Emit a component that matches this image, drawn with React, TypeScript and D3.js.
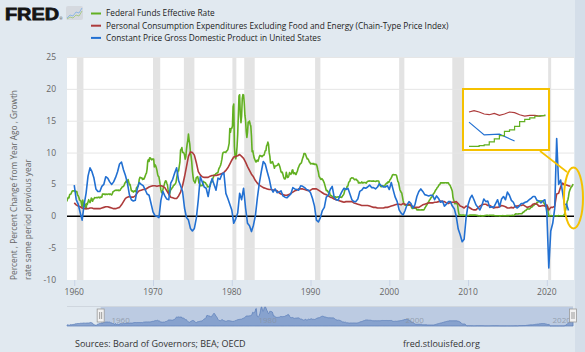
import { useEffect, useRef } from 'react'
import * as d3 from 'd3'

// Federal Funds Effective Rate, monthly, starting 1954-07
const fedFundsStart = 1954.5
const fedFunds = [
  0.80, 1.22, 1.07, 0.85, 0.83, 1.28,
  1.39, 1.29, 1.35, 1.43, 1.43, 1.64, 1.68, 1.96, 2.18, 2.24, 2.35, 2.48,
  2.45, 2.50, 2.50, 2.62, 2.75, 2.71, 2.75, 2.73, 2.95, 2.96, 2.88, 2.94,
  2.84, 3.00, 2.96, 3.00, 3.00, 3.00, 2.99, 3.24, 3.47, 3.50, 3.28, 2.98,
  2.72, 1.67, 1.20, 1.26, 0.63, 0.93, 0.68, 1.53, 1.76, 1.80, 2.27, 2.42,
  2.48, 2.43, 2.80, 2.96, 2.90, 3.39, 3.47, 3.50, 3.76, 3.98, 4.00, 3.99,
  3.99, 3.97, 3.84, 3.92, 3.85, 3.32, 3.23, 2.98, 2.60, 2.47, 2.44, 1.98,
  1.45, 2.54, 2.02, 1.49, 1.98, 1.73, 1.17, 2.00, 1.88, 2.26, 2.61, 2.33,
  2.15, 2.37, 2.85, 2.78, 2.36, 2.68, 2.71, 2.93, 2.90, 2.90, 2.94, 2.93,
  2.92, 3.00, 2.98, 2.90, 3.00, 2.99, 3.02, 3.49, 3.48, 3.50, 3.48, 3.38,
  3.48, 3.48, 3.43, 3.47, 3.50, 3.50, 3.42, 3.50, 3.45, 3.36, 3.52, 3.85,
  3.90, 3.98, 4.04, 4.09, 4.10, 4.04, 4.09, 4.12, 4.01, 4.08, 4.10, 4.32,
  4.42, 4.60, 4.65, 4.67, 4.90, 5.17, 5.30, 5.53, 5.40, 5.53, 5.76, 5.40,
  4.94, 5.00, 4.53, 4.05, 3.94, 3.98, 3.79, 3.90, 3.99, 3.88, 4.13, 4.51,
  4.61, 4.71, 5.05, 5.76, 6.11, 6.07, 6.02, 6.03, 5.78, 5.91, 5.82, 6.02,
  6.30, 6.61, 6.79, 7.41, 8.67, 8.90, 8.61, 9.19, 9.15, 9.00, 8.85, 8.97,
  8.98, 8.98, 7.76, 8.10, 7.95, 7.61, 7.21, 6.61, 6.29, 6.20, 5.60, 4.90,
  4.14, 3.72, 3.71, 4.15, 4.63, 4.91, 5.31, 5.56, 5.55, 5.20, 4.91, 4.14,
  3.50, 3.29, 3.83, 4.17, 4.27, 4.46, 4.55, 4.80, 4.87, 5.04, 5.06, 5.33,
  5.94, 6.58, 7.09, 7.12, 7.84, 8.49, 10.40, 10.50, 10.78, 10.01, 10.03, 9.95,
  9.65, 8.97, 9.35, 10.51, 11.31, 11.93, 12.92, 12.01, 11.34, 10.06, 9.45, 8.53,
  7.13, 6.24, 5.54, 5.49, 5.22, 5.55, 6.10, 6.14, 6.24, 5.82, 5.22, 5.20,
  4.87, 4.77, 4.84, 4.82, 5.29, 5.48, 5.31, 5.29, 5.25, 5.03, 4.95, 4.65,
  4.61, 4.68, 4.69, 4.73, 5.35, 5.39, 5.42, 5.90, 6.14, 6.47, 6.51, 6.56,
  6.70, 6.78, 6.79, 6.89, 7.36, 7.60, 7.81, 8.04, 8.45, 8.96, 9.76, 10.03,
  10.07, 10.06, 10.09, 10.01, 10.24, 10.29, 10.47, 10.94, 11.43, 13.77, 13.18, 13.78,
  13.82, 14.13, 17.19, 17.61, 10.98, 9.47, 9.03, 9.61, 10.87, 12.81, 15.85, 18.90,
  19.08, 15.93, 14.70, 15.72, 18.52, 19.10, 19.04, 17.82, 15.87, 15.08, 13.31, 12.37,
  13.22, 14.78, 14.68, 14.94, 14.45, 14.15, 12.59, 10.12, 10.31, 9.71, 9.20, 8.95,
  8.68, 8.51, 8.77, 8.80, 8.63, 8.98, 9.37, 9.56, 9.45, 9.48, 9.34, 9.47,
  9.56, 9.59, 9.91, 10.29, 10.32, 11.06, 11.23, 11.64, 11.30, 9.99, 9.43, 8.38,
  8.35, 8.50, 8.58, 8.27, 7.97, 7.53, 7.88, 7.90, 7.92, 7.99, 8.05, 8.27,
  8.14, 7.86, 7.48, 6.99, 6.85, 6.92, 6.56, 6.17, 5.89, 5.85, 6.04, 6.91,
  6.43, 6.10, 6.13, 6.37, 6.85, 6.73, 6.58, 6.73, 7.22, 7.29, 6.69, 6.77,
  6.83, 6.58, 6.58, 6.87, 7.09, 7.51, 7.75, 8.01, 8.19, 8.30, 8.35, 8.76,
  9.12, 9.36, 9.85, 9.84, 9.81, 9.53, 9.24, 8.99, 9.02, 8.84, 8.55, 8.45,
  8.23, 8.24, 8.28, 8.26, 8.18, 8.29, 8.15, 8.13, 8.20, 8.11, 7.81, 7.31,
  6.91, 6.25, 6.12, 5.91, 5.78, 5.90, 5.82, 5.66, 5.45, 5.21, 4.81, 4.43,
  4.03, 4.06, 3.98, 3.73, 3.82, 3.76, 3.25, 3.30, 3.22, 3.10, 3.09, 2.92,
  3.02, 3.03, 3.07, 2.96, 3.00, 3.04, 3.06, 3.03, 3.09, 2.99, 3.02, 2.96,
  3.05, 3.25, 3.34, 3.56, 4.01, 4.25, 4.26, 4.47, 4.73, 4.76, 5.29, 5.45,
  5.53, 5.92, 5.98, 6.05, 6.01, 6.00, 5.85, 5.74, 5.80, 5.76, 5.80, 5.60,
  5.56, 5.22, 5.31, 5.22, 5.24, 5.27, 5.40, 5.22, 5.30, 5.24, 5.31, 5.29,
  5.25, 5.19, 5.39, 5.51, 5.50, 5.56, 5.52, 5.54, 5.54, 5.50, 5.52, 5.50,
  5.56, 5.51, 5.49, 5.45, 5.49, 5.56, 5.54, 5.55, 5.51, 5.07, 4.83, 4.68,
  4.63, 4.76, 4.81, 4.74, 4.74, 4.76, 4.99, 5.07, 5.22, 5.20, 5.42, 5.30,
  5.45, 5.73, 5.85, 6.02, 6.27, 6.53, 6.54, 6.50, 6.52, 6.51, 6.51, 6.40,
  5.98, 5.49, 5.31, 4.80, 4.21, 3.97, 3.77, 3.65, 3.07, 2.49, 2.09, 1.82,
  1.73, 1.74, 1.73, 1.75, 1.75, 1.75, 1.73, 1.74, 1.75, 1.75, 1.34, 1.24,
  1.24, 1.26, 1.25, 1.26, 1.26, 1.22, 1.01, 1.03, 1.01, 1.01, 1.00, 0.98,
  1.00, 1.01, 1.00, 1.00, 1.00, 1.03, 1.26, 1.43, 1.61, 1.76, 1.93, 2.16,
  2.28, 2.50, 2.63, 2.79, 3.00, 3.04, 3.26, 3.50, 3.62, 3.78, 4.00, 4.16,
  4.29, 4.49, 4.59, 4.79, 4.94, 4.99, 5.24, 5.25, 5.25, 5.25, 5.25, 5.24,
  5.25, 5.26, 5.26, 5.25, 5.25, 5.25, 5.26, 5.02, 4.94, 4.76, 4.49, 4.24,
  3.94, 2.98, 2.61, 2.28, 1.98, 2.00, 2.01, 2.00, 1.81, 0.97, 0.39, 0.16,
  0.15, 0.22, 0.18, 0.15, 0.18, 0.21, 0.16, 0.16, 0.15, 0.12, 0.12, 0.12,
  0.11, 0.13, 0.16, 0.20, 0.20, 0.18, 0.18, 0.19, 0.19, 0.19, 0.19, 0.18,
  0.17, 0.16, 0.14, 0.10, 0.09, 0.09, 0.07, 0.10, 0.08, 0.07, 0.08, 0.07,
  0.08, 0.10, 0.13, 0.14, 0.16, 0.16, 0.16, 0.13, 0.14, 0.16, 0.16, 0.16,
  0.14, 0.15, 0.14, 0.15, 0.11, 0.09, 0.09, 0.08, 0.08, 0.09, 0.08, 0.09,
  0.07, 0.07, 0.08, 0.09, 0.09, 0.10, 0.09, 0.09, 0.09, 0.09, 0.09, 0.12,
  0.11, 0.11, 0.11, 0.12, 0.12, 0.13, 0.13, 0.14, 0.14, 0.12, 0.12, 0.24,
  0.34, 0.38, 0.36, 0.37, 0.37, 0.38, 0.39, 0.40, 0.40, 0.40, 0.41, 0.54,
  0.65, 0.66, 0.79, 0.90, 0.91, 1.04, 1.15, 1.16, 1.15, 1.15, 1.16, 1.30,
  1.41, 1.42, 1.51, 1.69, 1.70, 1.82, 1.91, 1.91, 1.95, 2.19, 2.20, 2.27,
  2.40, 2.40, 2.41, 2.42, 2.39, 2.38, 2.40, 2.13, 2.04, 1.83, 1.55, 1.55,
  1.55, 1.58, 0.65, 0.05, 0.05, 0.08, 0.09, 0.10, 0.09, 0.09, 0.09, 0.09,
  0.09, 0.08, 0.07, 0.07, 0.06, 0.08, 0.10, 0.09, 0.08, 0.08, 0.08, 0.08,
  0.08, 0.08, 0.20, 0.33, 0.77, 1.21, 1.68, 2.33, 2.56, 3.08, 3.78, 4.10,
  4.33, 4.57, 4.65, 4.83, 5.06,
]

// PCE excluding food and energy, % change from year ago, quarterly from 1960 Q1
const pceStart = 1960
const pceCore = [
  2.1, 1.8, 1.6, 1.5, 1.3, 1.2, 1.2, 1.2, 1.3, 1.3, 1.2, 1.2, 1.2, 1.2, 1.3, 1.4,
  1.5, 1.5, 1.4, 1.3, 1.2, 1.2, 1.3, 1.4, 1.8, 2.3, 2.8, 3.0, 3.1, 3.0, 3.0, 3.2,
  3.7, 4.0, 4.1, 4.2, 4.2, 4.4, 4.6, 4.7, 4.8, 4.8, 4.7, 4.8, 4.8, 4.7, 4.5, 4.0,
  3.5, 3.0, 2.9, 2.8, 2.8, 3.2, 3.8, 4.8, 6.2, 7.8, 9.4, 10.1, 10.0, 9.6, 8.4, 7.0,
  6.5, 6.2, 6.1, 6.1, 6.1, 6.3, 6.4, 6.4, 6.4, 6.5, 6.6, 6.7, 6.9, 7.2, 7.6, 8.2,
  8.8, 9.3, 9.4, 9.5, 9.7, 9.4, 9.1, 8.5, 7.8, 7.2, 6.6, 6.2, 5.6, 5.2, 4.9, 4.7,
  4.5, 4.4, 4.3, 4.2, 4.2, 4.1, 4.1, 4.0, 3.7, 3.5, 3.4, 3.3, 3.3, 3.4, 3.6, 3.8,
  4.0, 4.1, 4.3, 4.3, 4.3, 4.2, 4.1, 4.0, 4.1, 4.3, 4.3, 4.3, 4.1, 3.9, 3.7, 3.5,
  3.4, 3.2, 3.0, 2.9, 2.7, 2.6, 2.5, 2.4, 2.3, 2.2, 2.3, 2.3, 2.3, 2.3, 2.1, 2.0,
  1.9, 1.8, 1.7, 1.7, 1.7, 1.7, 1.6, 1.5, 1.4, 1.4, 1.3, 1.3, 1.3, 1.3, 1.4, 1.4,
  1.5, 1.6, 1.7, 1.8, 1.9, 1.9, 1.8, 2.0, 1.9, 1.8, 1.9, 1.7, 1.5, 1.4, 1.4, 1.4,
  1.6, 1.8, 1.9, 2.0, 2.1, 2.1, 2.1, 2.2, 2.2, 2.3, 2.4, 2.3, 2.3, 2.1, 2.0, 2.2,
  2.2, 2.2, 2.3, 2.0, 1.6, 1.5, 1.3, 1.6, 1.5, 1.3, 1.1, 1.0, 1.0, 1.3, 1.6, 1.8,
  1.9, 1.9, 1.7, 1.7, 1.5, 1.3, 1.4, 1.4, 1.5, 1.7, 1.6, 1.5, 1.3, 1.3, 1.4, 1.3,
  1.6, 1.6, 1.7, 1.7, 1.8, 1.6, 1.4, 1.5, 1.6, 1.9, 2.0, 1.9, 1.6, 1.6, 1.7, 1.6,
  1.8, 1.0, 1.4, 1.4, 1.6, 3.5, 3.6, 4.6, 5.2, 4.9, 4.9, 4.8, 4.7,
]

// Real GDP, growth rate same period previous year, quarterly from 1960 Q1
const gdpStart = 1960
const gdpGrowth = [
  4.9, 2.6, 1.9, 0.6, -0.6, 1.8, 3.6, 6.3, 7.6, 7.0, 6.0, 4.3, 3.9, 3.9, 4.7, 5.0,
  6.2, 6.0, 5.4, 5.0, 5.4, 6.1, 7.0, 8.2, 8.5, 7.3, 6.4, 5.2, 3.4, 2.6, 2.4, 2.5,
  4.3, 5.3, 5.0, 4.8, 4.2, 3.5, 3.3, 2.0, 0.7, 0.1, 0.0, -0.2, 2.5, 3.9, 3.2, 2.7,
  2.6, 5.2, 5.8, 6.8, 7.6, 5.6, 4.8, 3.9, 1.3, -0.2, -0.6, -1.9, -2.3, -1.9, -0.3, 2.6,
  6.2, 5.4, 4.6, 4.4, 3.1, 4.9, 5.9, 5.0, 4.1, 6.0, 5.8, 6.6, 6.8, 3.6, 2.8, 1.9,
  1.0, -1.1, -0.4, 0.5, 3.6, 2.6, 4.4, 1.3, -1.1, -1.5, -2.4, -1.4, 0.1, 2.9, 5.2, 7.0,
  8.6, 8.2, 7.0, 5.9, 4.4, 3.8, 4.3, 3.7, 3.8, 4.0, 3.2, 3.0, 2.9, 3.2, 3.5, 4.5,
  4.3, 4.2, 4.1, 4.8, 4.7, 4.5, 4.2, 4.1, 3.7, 2.8, 1.6, -0.6, -0.9, -0.2, 0.9, 1.4,
  3.0, 3.3, 4.2, 4.7, 3.0, 2.6, 2.5, 3.3, 3.9, 4.4, 4.2, 4.4, 3.5, 2.6, 2.3, 2.3,
  2.7, 3.9, 4.1, 4.5, 4.4, 4.6, 4.9, 4.5, 4.5, 4.3, 4.6, 5.1, 4.8, 4.6, 4.6, 4.8,
  4.2, 5.3, 4.1, 3.0, 2.3, 1.0, 0.5, 0.2, 0.9, 1.8, 2.3, 2.0, 1.3, 1.8, 3.1, 3.9,
  4.3, 3.9, 3.4, 3.3, 3.2, 3.3, 3.3, 2.6, 3.2, 2.8, 2.2, 2.4, 1.6, 1.9, 2.3, 2.3,
  1.6, 1.2, 0.0, -2.0, -2.9, -4.0, -3.6, -0.2, 1.8, 2.8, 3.3, 2.6, 1.8, 1.4, 1.0, 1.7,
  2.7, 2.3, 2.4, 1.4, 1.5, 1.4, 2.0, 2.6, 1.5, 2.7, 3.1, 2.6, 3.8, 3.3, 2.5, 2.2,
  1.5, 1.3, 1.6, 2.0, 2.0, 2.2, 2.3, 2.6, 2.8, 3.1, 3.1, 2.5, 2.4, 2.1, 2.4, 2.6,
  0.6, -8.1, -2.3, -1.1, 1.2, 12.2, 5.0, 5.7, 3.7, 1.8, 1.9, 0.9,
]

// Inset (close-up of 2022-2023)
const insetStart = 2022
const insetRate = [0.08, 0.08, 0.20, 0.33, 0.77, 1.21, 1.68, 2.33, 2.56, 3.08, 3.78, 4.10, 4.33, 4.57, 4.65, 4.83]
const insetPce = [5.2, 5.4, 5.2, 4.9, 4.8, 5.0, 4.7, 4.9, 5.2, 5.1, 4.8, 4.6, 4.7, 4.7, 4.6, 4.7]
const insetGdp = [3.7, 1.8, 1.9, 0.9]

// NBER recessions (start month, end month as decimal years)
const recessions: [number, number][] = [
  [1960.33, 1961.08], [1970.0, 1970.83], [1973.92, 1975.17], [1980.08, 1980.5],
  [1981.58, 1982.83], [1990.58, 1991.17], [2001.25, 2001.83], [2008.0, 2009.42], [2020.17, 2020.25],
]

const yTicks = [-10, -5, 0, 5, 10, 15, 20, 25]
const xTicks = [1960, 1970, 1980, 1990, 2000, 2010, 2020]
const navTicks = [1960, 1980, 2000, 2020]

const seriesNames = [
  'Federal Funds Effective Rate',
  'Personal Consumption Expenditures Excluding Food and Energy (Chain-Type Price Index)',
  'Constant Price Gross Domestic Product in United States',
]
const GREEN = '#62b022'
const RED = '#ad3b3b'
const BLUE = '#2270d2'
const seriesColors = [GREEN, RED, BLUE]
const FONT = '"Open Sans", sans-serif'

export default function App() {
  const svgRef = useRef<SVGSVGElement>(null)

  useEffect(() => {
    if (!svgRef.current) return
    const svg = d3.select(svgRef.current)
    svg.selectAll('*').remove()

    const W = 585
    const H = 352
    const plot = { left: 67, right: 574, top: 57, bottom: 280 }

    const x = d3.scaleLinear().domain([1959.08, 2023.45]).range([plot.left, plot.right])
    const y = d3.scaleLinear().domain([-10, 25]).range([plot.bottom, plot.top])

    const fedPts: [number, number][] = fedFunds.map((v, i) => [fedFundsStart + i / 12, v])
    const pcePts: [number, number][] = pceCore.map((v, i) => [pceStart + i / 4, v])
    const gdpPts: [number, number][] = gdpGrowth.map((v, i) => [gdpStart + i / 4, v])

    // background
    svg.append('rect').attr('width', W).attr('height', H).attr('fill', '#e1e9f0')
    svg.append('rect').attr('x', 575).attr('width', W - 575).attr('height', H).attr('fill', '#d4dee9')

    svg.append('defs').append('clipPath').attr('id', 'plotclip')
      .append('rect')
      .attr('x', plot.left).attr('y', plot.top)
      .attr('width', plot.right - plot.left).attr('height', plot.bottom - plot.top)

    svg.append('rect')
      .attr('x', plot.left).attr('y', plot.top)
      .attr('width', plot.right - plot.left).attr('height', plot.bottom - plot.top)
      .attr('fill', '#ffffff')

    // recession shading
    svg.append('g').selectAll('rect')
      .data(recessions)
      .enter()
      .append('rect')
      .attr('x', d => x(d[0]))
      .attr('y', plot.top)
      .attr('width', d => Math.max(3, x(d[1] + 1 / 12) - x(d[0])))
      .attr('height', plot.bottom - plot.top)
      .attr('fill', '#e3e3e3')

    // grid
    svg.append('g').selectAll('line')
      .data(yTicks.filter(t => t !== -10 && t !== 0))
      .enter()
      .append('line')
      .attr('x1', plot.left).attr('x2', plot.right)
      .attr('y1', d => y(d) + 0.5).attr('y2', d => y(d) + 0.5)
      .attr('stroke', '#e6e6e6')
      .attr('stroke-width', 1)

    // zero line
    svg.append('line')
      .attr('x1', plot.left).attr('x2', plot.right)
      .attr('y1', y(0)).attr('y2', y(0))
      .attr('stroke', '#000').attr('stroke-width', 1.6)

    // series
    const line = d3.line<[number, number]>().x(d => x(d[0])).y(d => y(d[1]))
    const series = svg.append('g').attr('clip-path', 'url(#plotclip)')
    ;[[fedPts, GREEN], [pcePts, RED], [gdpPts, BLUE]].forEach(([pts, col]) => {
      series.append('path')
        .attr('d', line(pts as [number, number][]))
        .attr('fill', 'none')
        .attr('stroke', col as string)
        .attr('stroke-width', 1.6)
        .attr('stroke-linejoin', 'round')
    })

    // y axis labels
    svg.append('g').selectAll('text')
      .data(yTicks)
      .enter()
      .append('text')
      .attr('x', 56)
      .attr('y', d => y(d))
      .attr('dy', '0.35em')
      .attr('text-anchor', 'end')
      .attr('font-family', FONT)
      .attr('font-size', 8.5)
      .attr('fill', '#666')
      .text(d => d)

    // x axis ticks + labels
    const xa = svg.append('g')
    xa.selectAll('line')
      .data(xTicks)
      .enter()
      .append('line')
      .attr('x1', d => x(d) + 0.5).attr('x2', d => x(d) + 0.5)
      .attr('y1', plot.bottom).attr('y2', plot.bottom + 6)
      .attr('stroke', '#c8d3e6')
    xa.selectAll('text')
      .data(xTicks)
      .enter()
      .append('text')
      .attr('x', d => x(d))
      .attr('y', 295)
      .attr('text-anchor', 'middle')
      .attr('font-family', FONT)
      .attr('font-size', 8.5)
      .attr('fill', '#666')
      .text(d => d)

    // y axis title
    const yt = svg.append('text')
      .attr('transform', `translate(0,${plot.bottom}) rotate(-90)`)
      .attr('font-family', FONT)
      .attr('font-size', 8.3)
      .attr('fill', '#666')
    yt.append('tspan').attr('x', 0).attr('y', 17).text('Percent , Percent Change from Year Ago , Growth')
    yt.append('tspan').attr('x', 0).attr('y', 31).text('rate same period previous year')

    // logo
    svg.append('text')
      .attr('x', 5).attr('y', 19.5)
      .attr('font-family', '"Liberation Sans", Arial, sans-serif')
      .attr('font-weight', 'bold')
      .attr('font-size', 16.5)
      .attr('textLength', 54)
      .attr('lengthAdjust', 'spacingAndGlyphs')
      .attr('fill', '#141414')
      .attr('stroke', '#141414')
      .attr('stroke-width', 0.8)
      .text('FRED')
    svg.append('text')
      .attr('x', 59.5).attr('y', 19.5)
      .attr('font-family', FONT).attr('font-size', 3.5).attr('fill', '#141414')
      .text('®')
    const icon = svg.append('g').attr('transform', 'translate(66,6)')
    icon.append('rect').attr('width', 17).attr('height', 14).attr('rx', 2).attr('fill', '#d5d9df')
    icon.append('path').attr('d', 'M1,12 L4,9 L7,10 L10,6 L13,7 L16,2').attr('fill', 'none').attr('stroke', '#8fb8e6').attr('stroke-width', 1)
    icon.append('path').attr('d', 'M1,13 L4,11 L7,12 L10,9 L13,10 L16,5').attr('fill', 'none').attr('stroke', '#a9c98c').attr('stroke-width', 1)

    // legend
    const lg = svg.append('g')
    seriesNames.forEach((name, i) => {
      const ly = 13.5 + i * 12.2
      lg.append('line')
        .attr('x1', 91).attr('x2', 101)
        .attr('y1', ly).attr('y2', ly)
        .attr('stroke', seriesColors[i]).attr('stroke-width', 2)
      lg.append('text')
        .attr('x', 106).attr('y', ly)
        .attr('dy', '0.35em')
        .attr('font-family', FONT)
        .attr('font-size', 8.3)
        .attr('fill', '#222')
        .text(name)
    })

    // navigator
    const nav = { left: 67, right: 573, top: 306, bottom: 326 }
    const nx = d3.scaleLinear().domain([fedFundsStart, 2023.33]).range([nav.left, nav.right])
    const ny = d3.scaleLinear().domain([0, d3.max(fedFunds) as number]).range([nav.bottom, nav.top + 1])
    const selL = nx(1959.08)
    svg.append('rect')
      .attr('x', selL).attr('y', nav.top)
      .attr('width', nav.right - selL).attr('height', nav.bottom - nav.top)
      .attr('fill', '#bccbe2')
    svg.append('line')
      .attr('x1', nav.left).attr('x2', nav.right)
      .attr('y1', nav.top + 0.5).attr('y2', nav.top + 0.5)
      .attr('stroke', '#cfd6de')
    const area = d3.area<[number, number]>().x(d => nx(d[0])).y0(nav.bottom).y1(d => ny(d[1]))
    svg.append('path')
      .attr('d', area(fedPts))
      .attr('fill', '#7e9bca')
      .attr('fill-opacity', 0.85)
      .attr('stroke', '#5f82bb')
      .attr('stroke-width', 0.8)
    svg.append('g').selectAll('text')
      .data(navTicks)
      .enter()
      .append('text')
      .attr('x', d => nx(d) + 4)
      .attr('y', nav.bottom - 3)
      .attr('font-family', FONT)
      .attr('font-size', 8)
      .attr('fill', '#8a93a0')
      .attr('fill-opacity', 0.8)
      .text(d => d)
    ;[selL, nav.right].forEach(hx => {
      const h = svg.append('g').attr('transform', `translate(${hx - 3.5},${nav.top + 3})`)
      h.append('rect').attr('width', 7).attr('height', 13).attr('fill', '#f2f2f2').attr('stroke', '#999').attr('stroke-width', 0.8)
      h.append('line').attr('x1', 2.5).attr('x2', 2.5).attr('y1', 3).attr('y2', 10).attr('stroke', '#777').attr('stroke-width', 0.7)
      h.append('line').attr('x1', 4.5).attr('x2', 4.5).attr('y1', 3).attr('y2', 10).attr('stroke', '#777').attr('stroke-width', 0.7)
    })

    // footer
    svg.append('text')
      .attr('x', 75).attr('y', 347)
      .attr('font-family', FONT).attr('font-size', 9).attr('fill', '#333')
      .text('Sources: Board of Governors; BEA; OECD')
    svg.append('text')
      .attr('x', 403).attr('y', 347)
      .attr('font-family', FONT).attr('font-size', 9).attr('fill', '#333')
      .text('fred.stlouisfed.org')

    // inset annotation (close-up of the latest period)
    const YEL = '#f5c100'
    const box = { left: 463, right: 549, top: 89, bottom: 150 }
    svg.append('rect')
      .attr('x', box.left).attr('y', box.top)
      .attr('width', box.right - box.left).attr('height', box.bottom - box.top)
      .attr('fill', '#fff').attr('stroke', YEL).attr('stroke-width', 2)
    const ix = d3.scaleLinear().domain([2022.0, 2023.3]).range([469, 548])
    const iy = d3.scaleLinear().domain([0, 5.5]).range([147, 110])
    const iline = d3.line<number>().x((_, i) => ix(insetStart + i / 12)).y(d => iy(d))
    svg.append('path').attr('d', iline(insetPce)).attr('fill', 'none').attr('stroke', RED).attr('stroke-width', 1.2)
    svg.append('path')
      .attr('d', d3.line<number>().x((_, i) => ix(insetStart + i / 4)).y(d => iy(d))(insetGdp))
      .attr('fill', 'none').attr('stroke', BLUE).attr('stroke-width', 1.2)
    svg.append('path')
      .attr('d', iline.curve(d3.curveStepAfter)(insetRate))
      .attr('fill', 'none').attr('stroke', GREEN).attr('stroke-width', 1.2)
    svg.append('line')
      .attr('x1', 540).attr('y1', 151).attr('x2', 567).attr('y2', 172)
      .attr('stroke', YEL).attr('stroke-width', 1.6)
    svg.append('ellipse')
      .attr('cx', 573.5).attr('cy', 198).attr('rx', 9.5).attr('ry', 30.5)
      .attr('fill', 'none').attr('stroke', YEL).attr('stroke-width', 2)
  }, [])

  return (
    <svg
      ref={svgRef}
      width={585}
      height={352}
      style={{ position: 'absolute', left: 0, top: 0, display: 'block' }}
    />
  )
}
